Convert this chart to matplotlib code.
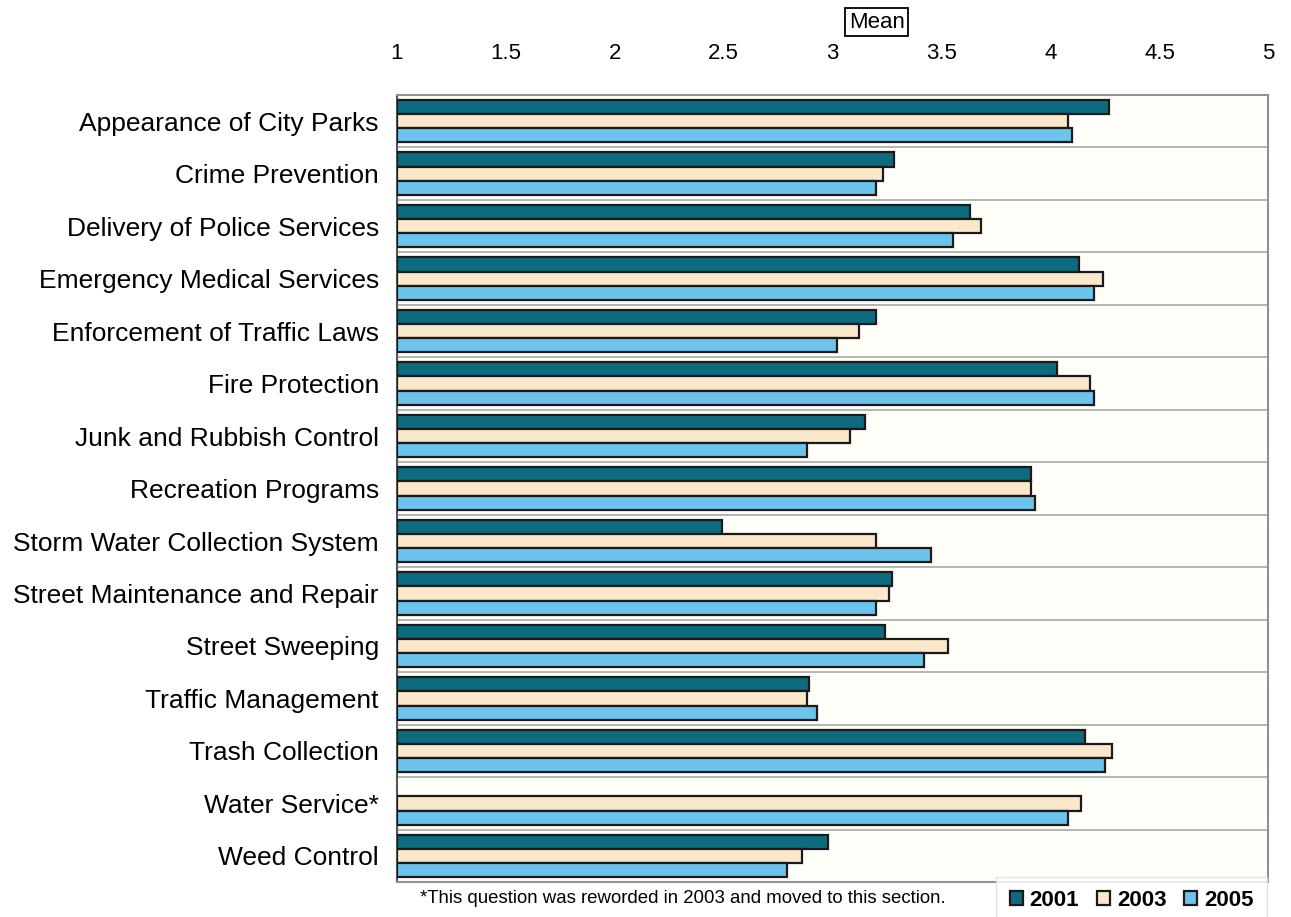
import matplotlib.pyplot as plt
import numpy as np

plt.rcParams['font.family'] = ['Liberation Sans', 'DejaVu Sans']

categories = ['Appearance of City Parks', 'Crime Prevention', 'Delivery of Police Services',
              'Emergency Medical Services', 'Enforcement of Traffic Laws', 'Fire Protection',
              'Junk and Rubbish Control', 'Recreation Programs', 'Storm Water Collection System',
              'Street Maintenance and Repair', 'Street Sweeping', 'Traffic Management',
              'Trash Collection', 'Water Service*', 'Weed Control']

mean_2001 = [4.27, 3.28, 3.63, 4.13, 3.20, 4.03, 3.15, 3.91, 2.49, 3.27, 3.24, 2.89, 4.16, np.nan, 2.98]
mean_2003 = [4.08, 3.23, 3.68, 4.24, 3.12, 4.18, 3.08, 3.91, 3.20, 3.26, 3.53, 2.88, 4.28, 4.14, 2.86]
mean_2005 = [4.10, 3.20, 3.55, 4.20, 3.02, 4.20, 2.88, 3.93, 3.45, 3.20, 3.42, 2.93, 4.25, 4.08, 2.79]

years = ['2001', '2003', '2005']
colors = ['#0d6b80', '#fbe8cb', '#6cc4ec']
x_ticks = [1, 1.5, 2, 2.5, 3, 3.5, 4, 4.5, 5]

fig = plt.figure(figsize=(12.91, 9.17), dpi=100)
ax = fig.add_axes([0.3075, 0.038, 0.675, 0.8585])
ax.set_facecolor('#fffef9')

y = np.arange(len(categories))
h = 0.27
base = 1.0
for i, (vals, c, lab) in enumerate(zip([mean_2001, mean_2003, mean_2005], colors, years)):
    v = np.array(vals)
    ax.barh(y + (i - 1) * h, v - base, left=base, height=h, color=c,
            edgecolor='#1a1a1a', linewidth=1.6, label=lab, zorder=3)

ax.set_xlim(1, 5)
ax.set_ylim(len(categories) - 0.5, -0.5)
ax.xaxis.tick_top()
ax.set_xticks(x_ticks)
ax.set_xticklabels([f'{t:g}' for t in x_ticks], fontsize=16)
ax.set_yticks(y)
ax.set_yticklabels(categories, fontsize=19)
ax.tick_params(axis='x', length=0, pad=22)
ax.tick_params(axis='y', length=0, pad=13)

# separators between categories
ax.set_yticks(np.arange(len(categories) + 1) - 0.5, minor=True)
ax.tick_params(axis='y', which='minor', length=0)
ax.grid(axis='y', which='minor', color='#a8a8a8', linewidth=1.2, zorder=0)

for s in ['top', 'right', 'bottom']:
    ax.spines[s].set_color('#909090')
    ax.spines[s].set_linewidth(1.5)
ax.spines['left'].set_color('#555555')
ax.spines['left'].set_linewidth(1.5)

fig.text(0.679, 0.976, 'Mean', fontsize=16,  ha='center', va='center',
         bbox=dict(boxstyle='square,pad=0.15', facecolor='white', edgecolor='black', linewidth=1.3))

fig.text(0.325, 0.02, '*This question was reworded in 2003 and moved to this section.',
         fontsize=13.4, ha='left', va='center')

leg = fig.legend(loc='lower right', bbox_to_anchor=(0.99, -0.02), ncol=3, frameon=True,
                 prop={'weight': 'bold', 'size': 16}, handlelength=0.6,
                 handleheight=0.6, handletextpad=0.3, columnspacing=0.8,
                 fancybox=False, borderpad=0.6)
leg.get_frame().set_edgecolor('#dddddd')

fig.savefig('out.png', dpi=100)
